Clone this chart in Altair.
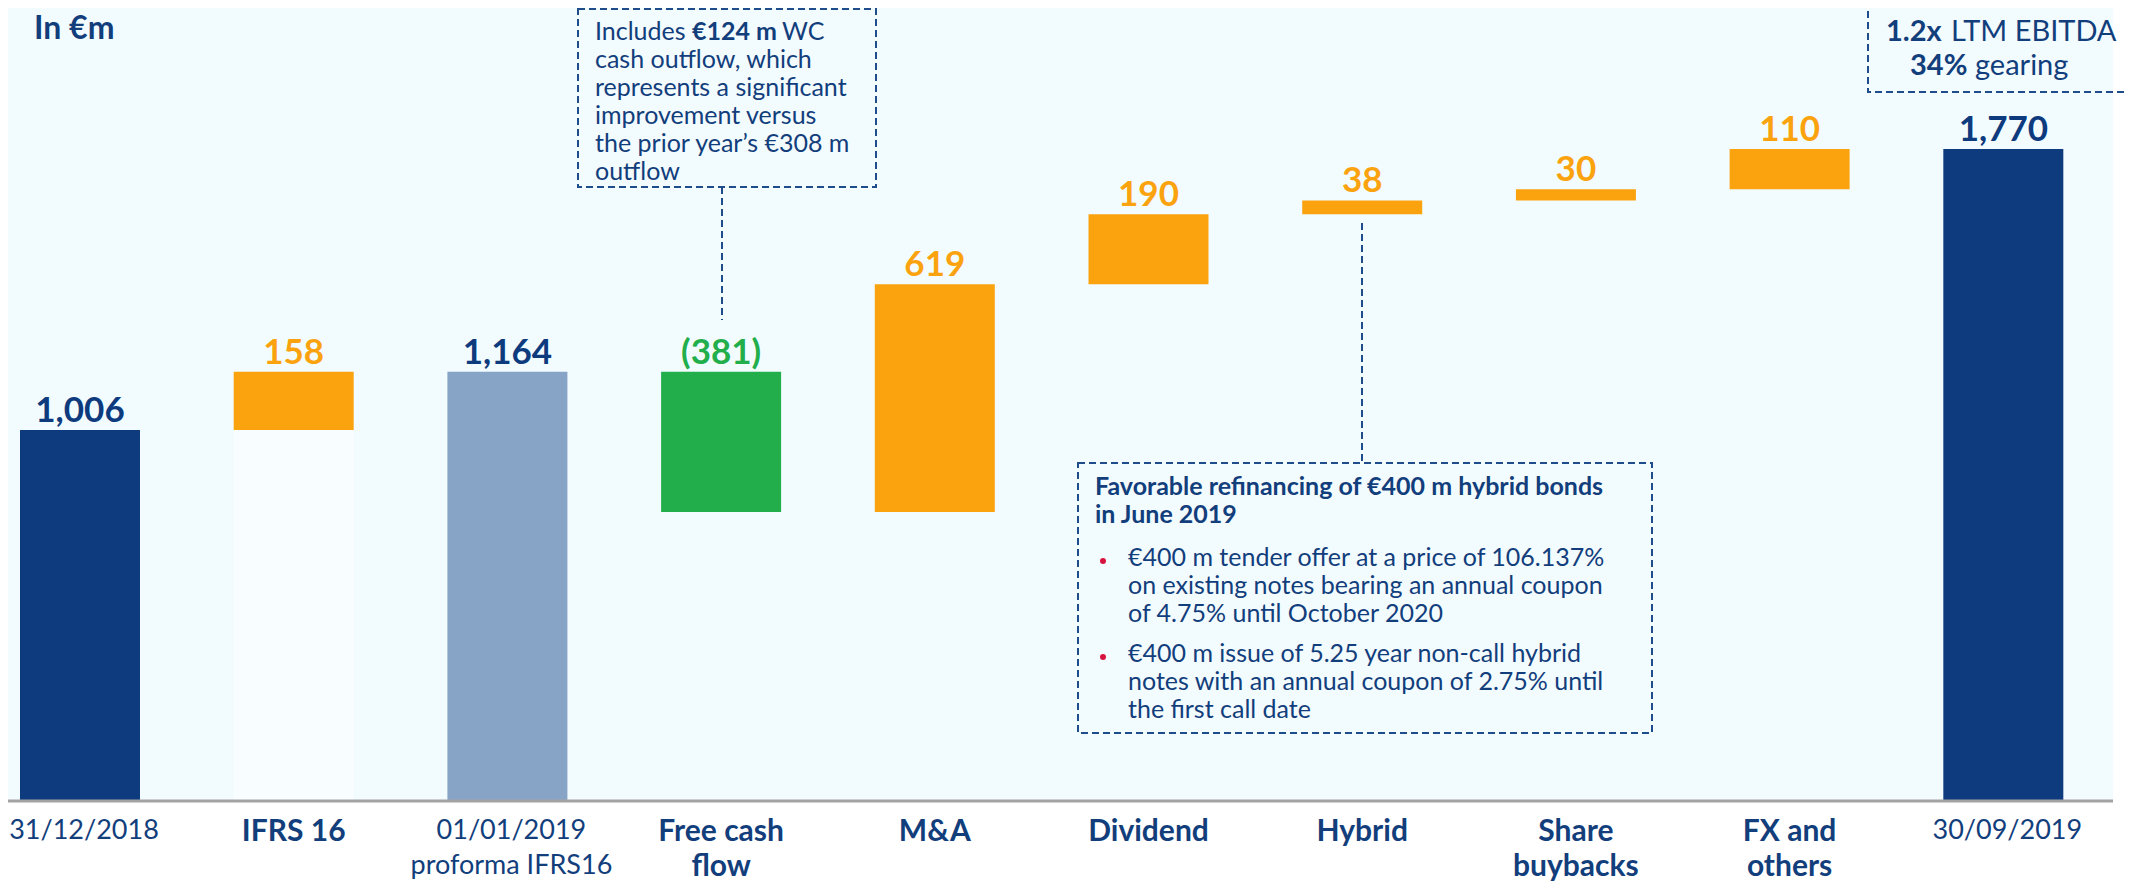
import altair as alt
import pandas as pd

# ---------------- data ----------------
categories = ["31/12/2018", "IFRS 16", "01/01/2019", "Free cash flow", "M&A",
              "Dividend", "Hybrid", "Share buybacks", "FX and others", "30/09/2019"]
label_line1 = ["31/12/2018", "IFRS 16", "01/01/2019", "Free cash", "M&A",
               "Dividend", "Hybrid", "Share", "FX and", "30/09/2019"]
label_line2 = ["", "", "proforma IFRS16", "flow", "", "", "", "buybacks", "others", ""]
amounts = [1006, 158, 1164, -381, 619, 190, 38, 30, 110, 1770]
kinds = ["total", "up", "pro", "down", "up", "up", "up", "up", "up", "total"]
value_text = ["1,006", "158", "1,164", "(381)", "619", "190", "38", "30", "110", "1,770"]
ghost = [False, True, False, False, False, False, False, False, False, False]

fcf_first = ["Includes", "€124 m", "WC"]
fcf_lines = ["cash outflow, which", "represents a significant", "improvement versus",
             "the prior year’s €308 m", "outflow"]
hyb_title = ["Favorable refinancing of €400 m hybrid bonds", "in June 2019"]
hyb_b1 = ["€400 m tender offer at a price of 106.137%",
          "on existing notes bearing an annual coupon", "of 4.75% until October 2020"]
hyb_b2 = ["€400 m issue of 5.25 year non-call hybrid",
          "notes with an annual coupon of 2.75% until", "the first call date"]
kpi1 = ["1.2x", "LTM EBITDA"]
kpi2 = ["34%", "gearing"]
unit_text = "In €m"

# ---------------- build table ----------------
rows = []
running = 0
for c, l1, l2, a, k, t, g in zip(categories, label_line1, label_line2, amounts, kinds, value_text, ghost):
    if k in ("total", "pro"):
        s, e = 0, a
    else:
        s, e = running, running + a
    running = e
    rows.append(dict(cat=c, l1=l1, l2=l2, start=s, end=e, top=max(s, e),
                     kind=k, txt=t, ghost=g, bold=k not in ("total", "pro")))
df = pd.DataFrame(rows)

NAVY = "#0D3B7E"
TXT = "#123E7C"
ORANGE = "#FBA30E"
GREEN = "#22AE4B"
STEEL = "#87A3C6"
BG = "#F2FBFE"
DASH = "#1F4C8A"

W, H = 2105, 792
xscale = alt.Scale(domain=categories, paddingInner=0.4385, paddingOuter=0.1443, align=0.1945)
yscale = alt.Scale(domain=[0, 2153], nice=False, zero=True)
kind_domain = ["total", "pro", "up", "down"]
bar_scale = alt.Scale(domain=kind_domain, range=[NAVY, STEEL, ORANGE, GREEN])
lab_scale = alt.Scale(domain=kind_domain, range=[NAVY, NAVY, ORANGE, GREEN])

base = alt.Chart(df)
X = alt.X("cat:N", scale=xscale, axis=None, sort=categories)

ghost_bars = base.transform_filter("datum.ghost").transform_calculate(zero="0").mark_bar(
    color="#F8FDFF").encode(
    x=X, y=alt.Y("start:Q", scale=yscale, axis=None), y2=alt.Y2("zero:Q")
)

bars = base.mark_bar().encode(
    x=X,
    y=alt.Y("start:Q", scale=yscale, axis=None),
    y2="end:Q",
    color=alt.Color("kind:N", scale=bar_scale, legend=None),
)

values = base.mark_text(font="Lato", fontWeight="bold", fontSize=35, baseline="alphabetic", dy=-8).encode(
    x=X,
    y=alt.Y("top:Q", scale=yscale, axis=None),
    text="txt:N",
    color=alt.Color("kind:N", scale=lab_scale, legend=None),
)

one = pd.DataFrame({"a": [0]})

axis_line = alt.Chart(one).mark_rule(color="#A3A3A3", strokeWidth=3).encode(
    y=alt.value(H + 1)
)


def cat_labels(bold, field, ypx, size, dx=0):
    return base.transform_filter("datum.bold" if bold else "!datum.bold").mark_text(
        font="Lato", fontWeight="bold" if bold else "normal", fontSize=size,
        baseline="alphabetic", color=TXT, dx=dx,
    ).encode(x=X, y=alt.value(ypx), text=f"{field}:N")


lab_layers = [
    cat_labels(True, "l1", 833, 30), cat_labels(True, "l2", 868, 30),
    cat_labels(False, "l1", 831, 27, 4), cat_labels(False, "l2", 866, 27, 4),
]


def txt(s, x, y, size, weight="normal", align="left", baseline="middle", color=TXT):
    return alt.Chart(one).mark_text(
        font="Lato", fontSize=size, fontWeight=weight, align=align, baseline=baseline, color=color
    ).encode(x=alt.value(x), y=alt.value(y), text=alt.value(s))


def box(x1, x2, y1, y2):
    return alt.Chart(one).mark_rect(
        fillOpacity=0, stroke=DASH, strokeWidth=2, strokeDash=[7, 4]
    ).encode(x=alt.value(x1), x2=alt.value(x2), y=alt.value(y1), y2=alt.value(y2))


def vdash(x, y1, y2):
    return alt.Chart(one).mark_rule(stroke=DASH, strokeWidth=2, strokeDash=[7, 4]).encode(
        x=alt.value(x), y=alt.value(y1), y2=alt.value(y2)
    )


def dot(x, y):
    return alt.Chart(one).mark_circle(color="#D7143E", opacity=1, size=36).encode(
        x=alt.value(x), y=alt.value(y)
    )


ann = []
# unit
ann.append(txt(unit_text, 26, 31, 32, "bold", baseline="alphabetic"))
# FCF note
ann.append(box(570, 868, 1, 179))
ann.append(vdash(714, 179, 312))
ann.append(txt(fcf_first[0], 587, 24, 25))
ann.append(txt(fcf_first[1], 684, 24, 25, "bold"))
ann.append(txt(fcf_first[2], 774, 24, 25))
for i, s in enumerate(fcf_lines):
    ann.append(txt(s, 587, 52 + i * 28, 25))
# hybrid note
ann.append(box(1070, 1644, 455, 725))
ann.append(vdash(1354, 215, 455))
for i, s in enumerate(hyb_title):
    ann.append(txt(s, 1087, 479 + i * 28, 25, "bold"))
for i, s in enumerate(hyb_b1):
    ann.append(txt(s, 1120, 550 + i * 28, 25))
for i, s in enumerate(hyb_b2):
    ann.append(txt(s, 1120, 646 + i * 28, 25))
ann.append(dot(1095, 553))
ann.append(dot(1095, 649))
# KPI box top right
ann.append(box(1860, 2140, -30, 84))
ann.append(txt(kpi1[0], 1878, 33, 29, "bold", baseline="alphabetic"))
ann.append(txt(kpi1[1], 1943, 33, 29, baseline="alphabetic"))
ann.append(txt(kpi2[0], 1902, 67, 29, "bold", baseline="alphabetic"))
ann.append(txt(kpi2[1], 1967, 67, 29, baseline="alphabetic"))

chart = alt.layer(ghost_bars, bars, values, axis_line, *lab_layers, *ann).resolve_scale(
    color="independent"
).properties(
    width=W, height=H,
    autosize=alt.AutoSizeParams(type="none"),
    padding={"left": 0, "top": 0, "right": 13, "bottom": 84},
    background="white",
).configure_view(fill=BG, stroke=None)

chart.save("out.html", embed_options={"renderer": "svg", "actions": False})
